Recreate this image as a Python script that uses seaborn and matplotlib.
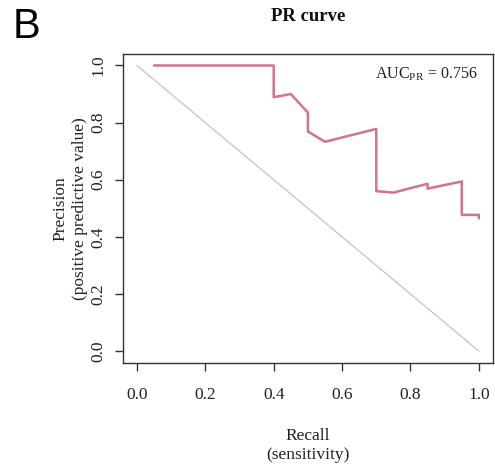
import matplotlib
matplotlib.use("Agg")
import matplotlib.pyplot as plt
import seaborn as sns
import pandas as pd

recall = [0.05, 0.40, 0.40, 0.45, 0.50, 0.50, 0.55, 0.70, 0.70, 0.75, 0.85, 0.85, 0.95, 0.95, 1.00, 1.00]
precision = [1.000, 1.000, 0.889, 0.900, 0.835, 0.769, 0.733, 0.778, 0.560, 0.555, 0.586, 0.569, 0.594, 0.477, 0.477, 0.465]
diag_x = [0.0, 1.0]
diag_y = [1.0, 0.0]
x_ticks = [0.0, 0.2, 0.4, 0.6, 0.8, 1.0]
y_ticks = [0.0, 0.2, 0.4, 0.6, 0.8, 1.0]
auc_pr = 0.756

sns.set_style("white")
plt.rcParams['font.family'] = ['Liberation Serif', 'DejaVu Serif']
plt.rcParams['mathtext.fontset'] = 'custom'
plt.rcParams['mathtext.rm'] = 'Liberation Serif'

df = pd.DataFrame({"recall": recall, "precision": precision})
dfd = pd.DataFrame({"x": diag_x, "y": diag_y})

fig = plt.figure(figsize=(4.95, 4.66), dpi=100)
ax = fig.add_axes([0.249, 0.222, 0.746, 0.662])

sns.lineplot(data=dfd, x="x", y="y", ax=ax, color="#c8c8c8", linewidth=1.0,
             sort=False, estimator=None)
sns.lineplot(data=df, x="recall", y="precision", ax=ax, color="#d4738c",
             linewidth=1.8, sort=False, estimator=None)

ax.set_xlim(-0.04, 1.04)
ax.set_ylim(-0.04, 1.04)
ax.set_xticks(x_ticks)
ax.set_yticks(y_ticks)
ax.set_xticklabels([f"{v:.1f}" for v in x_ticks], fontsize=12.5)
ax.set_yticklabels([f"{v:.1f}" for v in y_ticks], fontsize=12.5, rotation=90, va="center")
ax.tick_params(axis="both", direction="out", length=6, width=1.0, colors="#333333",
               labelcolor="#222222", left=True, bottom=True)
ax.tick_params(axis="x", pad=11.5)
ax.tick_params(axis="y", pad=6)
for s in ax.spines.values():
    s.set_color("#333333")
    s.set_linewidth(1.0)

ax.set_xlabel("Recall\n(sensitivity)", fontsize=12.5, labelpad=18, color="#222222", linespacing=1.25)
ax.set_ylabel("Precision\n(positive predictive value)", fontsize=12.5, labelpad=2, color="#222222", linespacing=1.3)
ax.set_title("PR curve", fontsize=13.5, fontweight="bold", pad=24, color="#111111")

ax.text(0.96, 0.965, r"AUC$_{\mathrm{PR}}$ = " + f"{auc_pr:.3f}", transform=ax.transAxes,
        ha="right", va="top", fontsize=11.5, color="#222222")

fig.text(0.026, 1 - 38 / 466, "B", fontsize=30, family="Liberation Sans", ha="left", va="baseline", color="black")

fig.savefig("out.png", dpi=100)
